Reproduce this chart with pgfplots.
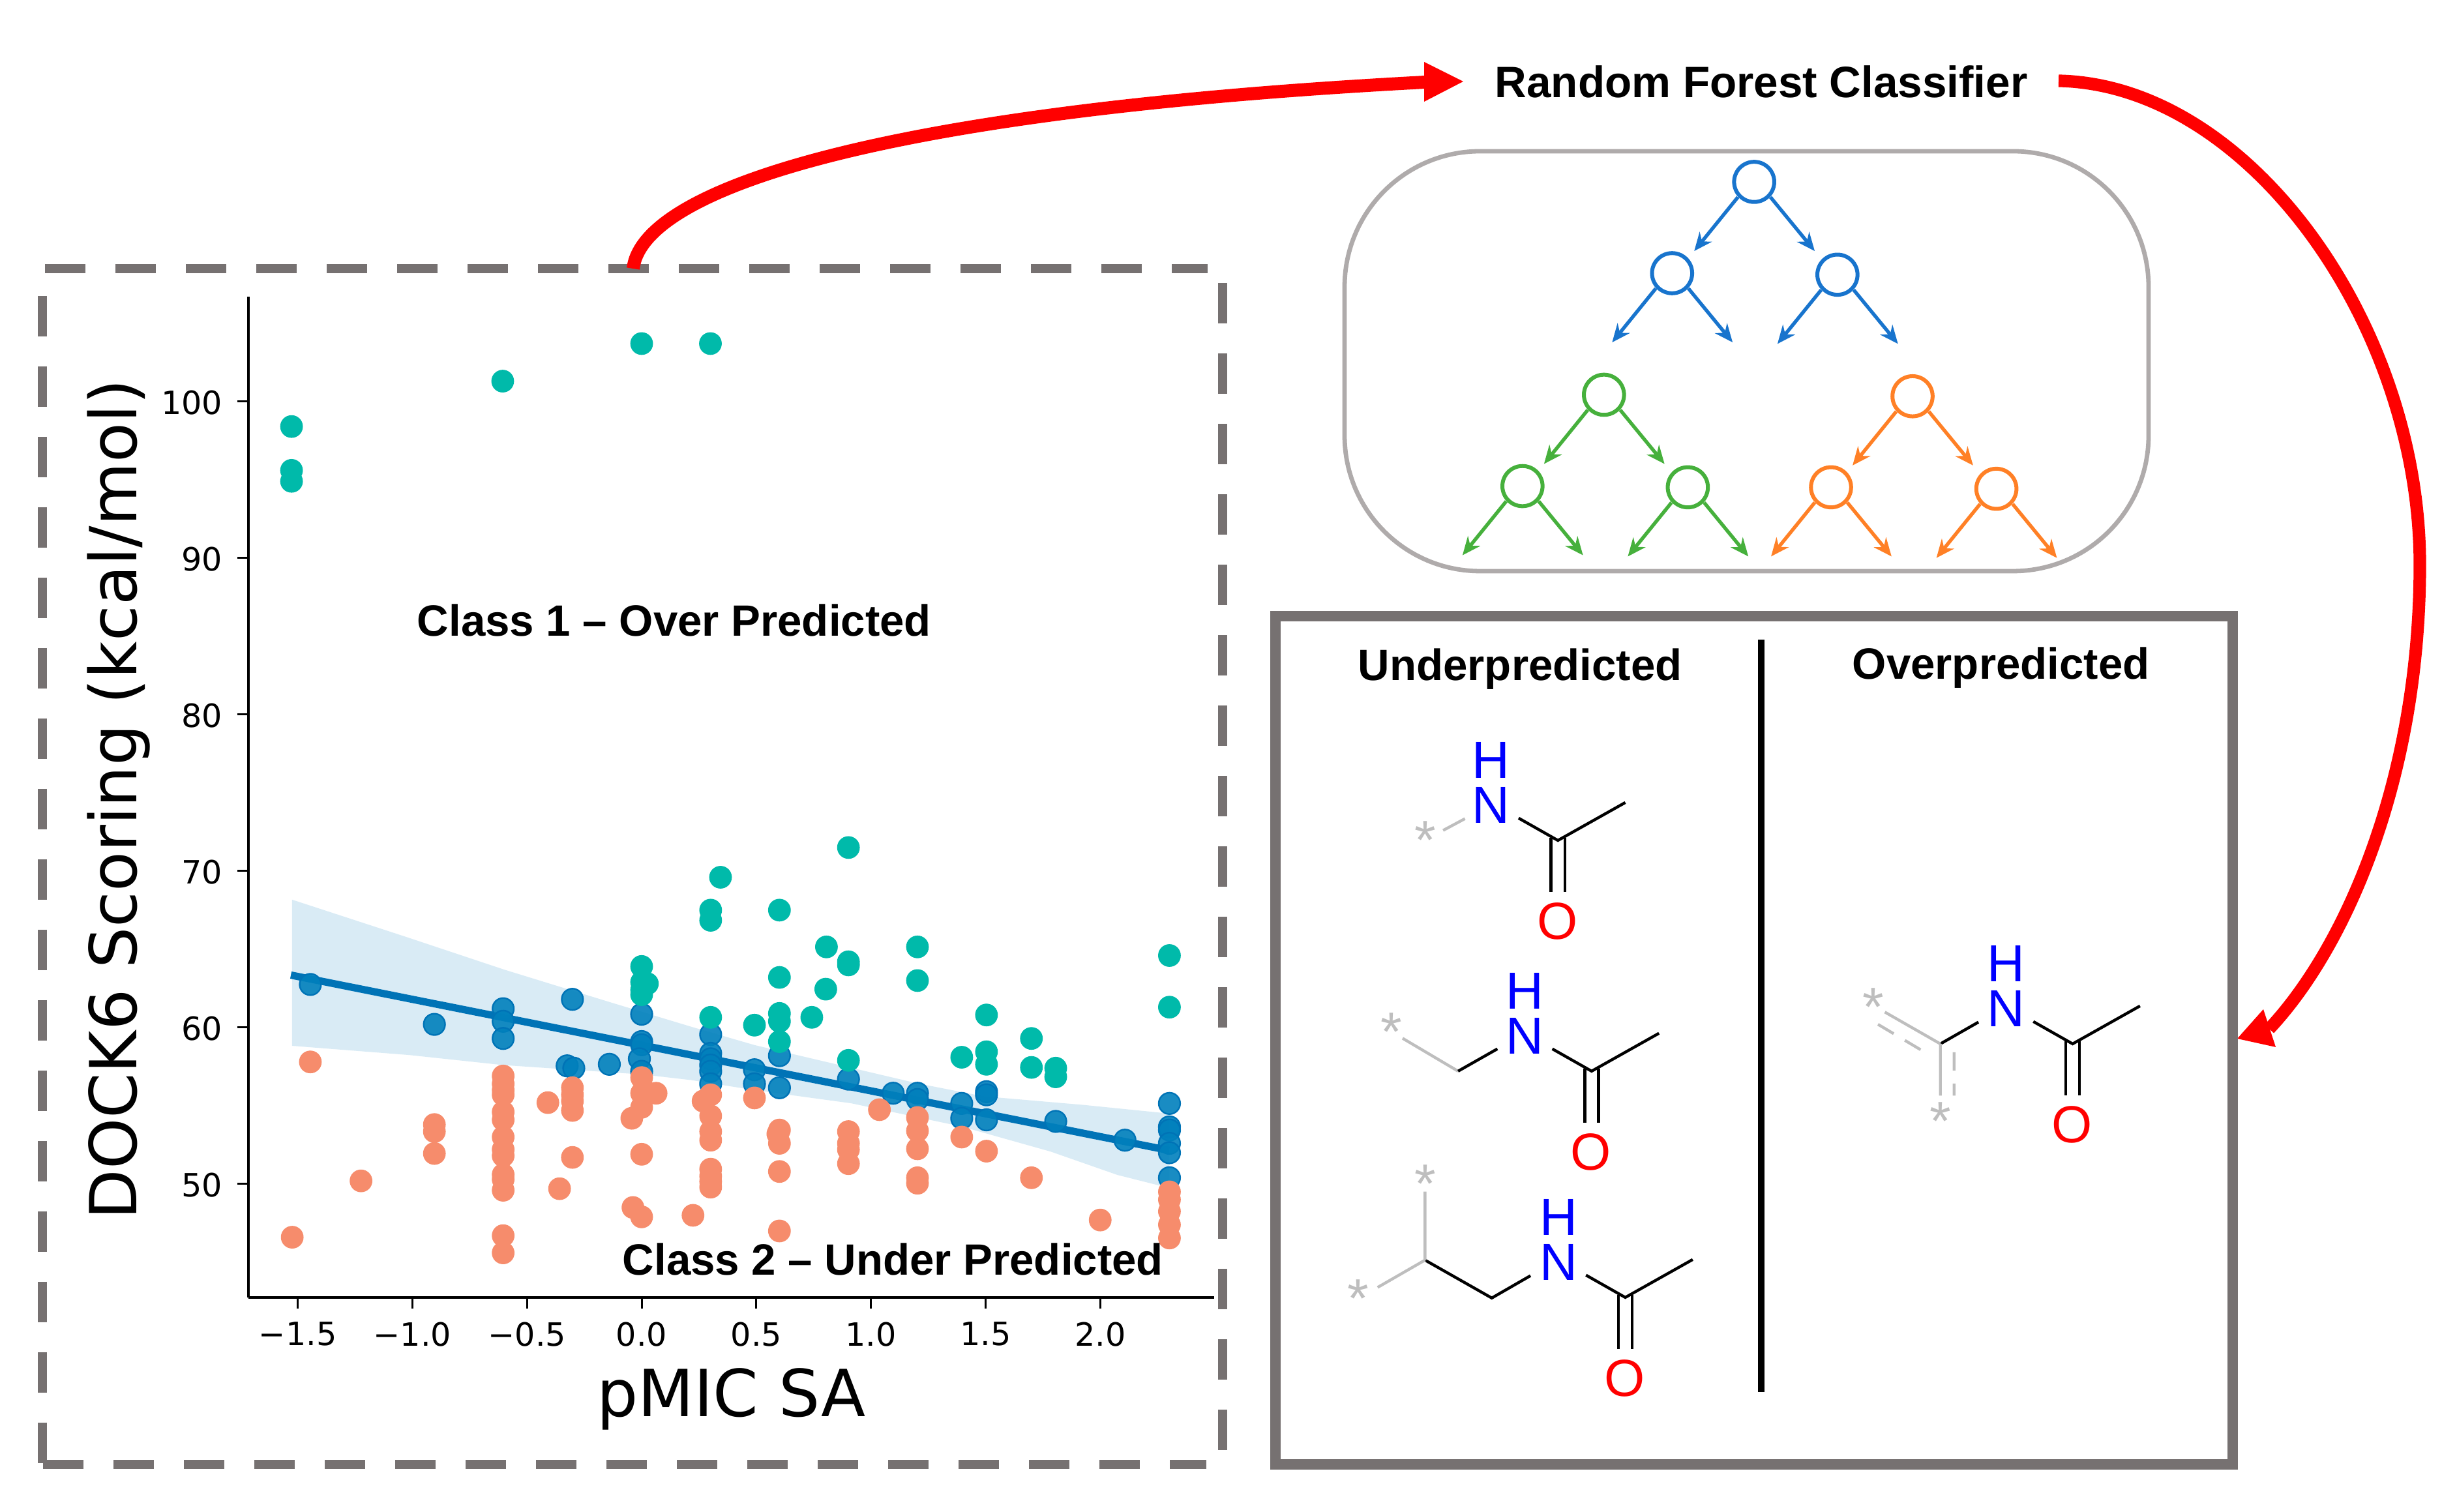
\documentclass[border=0pt]{standalone}
\usepackage{fontspec}
\usepackage{pgfplots}
\pgfplotsset{compat=1.18}
\usetikzlibrary{arrows.meta}
\setmainfont{Liberation Sans}
\newfontfamily\dejavu{DejaVu Sans}

\definecolor{ptgreen}{RGB}{0,186,170}
\definecolor{ptorange}{RGB}{246,140,108}
\definecolor{ptblue}{RGB}{0,128,188}
\definecolor{edgeblue}{RGB}{0,115,182}
\definecolor{bandblue}{RGB}{217,235,245}
\definecolor{frame}{RGB}{118,113,113}
\definecolor{lightframe}{RGB}{175,171,171}
\definecolor{treeblue}{RGB}{24,116,205}
\definecolor{treegreen}{RGB}{70,176,60}
\definecolor{treeorange}{RGB}{255,128,38}
\definecolor{stargray}{RGB}{190,190,190}

% one split of a tree: node centre, then the two arrows
\newcommand{\treenode}[3]{%
  \draw[#1,line width=1.5pt] (#2,#3) circle[radius=7.7pt];
  \draw[#1,line width=1.35pt,-{Stealth[length=7pt,width=6pt]}] (#2-28,#3+51) -- (#2-103,#3+231);
  \draw[#1,line width=1.35pt,-{Stealth[length=7pt,width=6pt]}] (#2+28,#3+51) -- (#2+104,#3+231);
}
% amide tail of a molecule, from the position of the NH
\newcommand{\amide}[2]{%
  \node[blue,font=\fontsize{20}{20}\selectfont,inner sep=0pt] at (#1,#2-81) {H};
  \node[blue,font=\fontsize{20}{20}\selectfont,inner sep=0pt] at (#1,#2) {N};
  \node[red,font=\fontsize{20}{20}\selectfont,inner sep=0pt] at (#1+106,#2+208) {O};
  \draw[black,line width=1.1pt,line join=miter] (#1+44,#2+23) -- (#1+107,#2+63) -- (#1+215,#2-5);
  \draw[black,line width=1.1pt] (#1+96,#2+58) -- (#1+96,#2+156) (#1+118,#2+58) -- (#1+118,#2+156);
}
\newcommand{\attach}[2]{\node[stargray,font=\fontsize{21}{21}\selectfont,inner sep=0pt] at (#1,#2+12) {*};}

\begin{document}
\begin{tikzpicture}
\path[use as bounding box] (0,0) rectangle (942pt,579.75pt);

\begin{axis}[
    at={(95.25pt,82.25pt)}, anchor=south west,
    scale only axis, width=370.25pt, height=383.75pt,
    xmin=-1.715, xmax=2.497, ymin=42.75, ymax=106.7,
    axis x line*=bottom, axis y line*=left,
    axis line style={line width=0.8pt,-},
    x axis line style={line width=1.1pt},
    tick align=outside, major tick length=4.3pt,
    tick style={black,line width=0.75pt},
    xtick={-1.5,-1,-0.5,0,0.5,1,1.5,2},
    xticklabels={−1.5,−1.0,−0.5,0.0,0.5,1.0,1.5,2.0},
    ytick={50,60,70,80,90,100},
    yticklabels={50,60,70,80,90,100},
    tick label style={font=\dejavu\fontsize{12.3}{14}\selectfont,inner sep=0pt},
    x tick label style={yshift=-5pt},
    y tick label style={xshift=-5.5pt,yshift=-0.5pt},
    xlabel={\dejavu pMIC SA}, ylabel={\dejavu DOCK6 Scoring (kcal/mol)},
    label style={font=\fontsize{24.9}{28}\selectfont,inner sep=0pt},
    xlabel style={at={(axis description cs:0.5,-0.1186)},anchor=base},
    ylabel style={at={(axis description cs:-0.1155,0.4975)},anchor=base},
]
% confidence band
\addplot[fill=bandblue,draw=none] coordinates {
    (-1.525,68.17) (-1.013,65.72) (-0.604,63.72) (-0.143,61.64) (0.216,60.05)
    (0.492,58.88) (1.203,56.43) (1.493,55.6) (1.93,55.05) (2.302,54.5)
    (2.302,49.74) (2.075,50.58) (1.784,52.07) (1.396,53.67) (0.913,55.16)
    (0.492,56) (0.216,56.64) (0.003,57) (-0.604,57.6) (-1.013,58.24) (-1.525,58.83)
} -- cycle;
% points near the fit
\addplot[only marks,mark=*,mark size=4.1pt,mark options={fill=ptblue,fill opacity=0.9,draw=edgeblue,line width=0.6pt}] coordinates {
    (-1.445,62.75) (-0.904,60.2) (-0.604,61.2) (-0.604,60.4) (-0.604,59.3)
    (-0.302,61.8) (-0.325,57.55) (-0.296,57.4) (-0.141,57.65)
    (0,60.85) (0,59.1) (0,58.9) (-0.01,58) (0,57.2)
    (0.301,59.55) (0.301,58.35) (0.301,58) (0.301,57.6) (0.301,57.2) (0.301,56.4)
    (0.492,57.3) (0.492,56.4) (0.601,58.2) (0.601,56.15) (0.902,56.7)
    (1.097,55.8) (1.203,55.8) (1.203,55.4) (1.396,55.15) (1.396,54.2)
    (1.504,55.9) (1.504,55.7) (1.504,54.1) (1.806,54) (2.108,52.8)
    (2.302,55.15) (2.302,53.65) (2.302,53.45) (2.302,52.6) (2.302,52) (2.302,50.4)
};
% fit line
\addplot[edgeblue,line width=2.8pt] coordinates {(-1.53,63.35) (2.3,52.15)};
% class 1
\addplot[only marks,mark=*,mark size=4.2pt,mark options={fill=ptgreen,draw=ptgreen,line width=0.3pt}] coordinates {
    (-1.527,98.4) (-1.527,95.6) (-1.527,94.9) (-0.606,101.3) (0,103.7) (0.3,103.7)
    (0,63.9) (0,62.9) (0.025,62.8) (0,62.4) (0,62.1)
    (0.344,69.6) (0.301,67.5) (0.301,66.85) (0.902,71.5) (0.601,67.5)
    (0.806,65.15) (0.902,64.2) (0.902,64) (1.203,65.15) (1.203,63)
    (2.302,64.6) (2.302,61.3) (0.601,63.2) (0.803,62.45)
    (0.601,60.9) (0.601,60.4) (0.601,59.1) (0.742,60.65) (0.301,60.65) (0.492,60.15)
    (0.902,57.9) (1.396,58.1) (1.504,60.8) (1.504,58.45) (1.504,57.65)
    (1.7,59.3) (1.7,57.45) (1.806,57.4) (1.806,56.85)
};
% class 2
\addplot[only marks,mark=*,mark size=4.2pt,mark options={fill=ptorange,draw=ptorange,line width=0.3pt}] coordinates {
    (-1.524,46.6) (-1.445,57.8) (-1.224,50.2)
    (-0.904,53.8) (-0.904,53.35) (-0.904,51.95)
    (-0.604,56.9) (-0.604,56.4) (-0.604,56) (-0.604,55.7) (-0.604,54.6) (-0.604,54.1)
    (-0.604,53) (-0.604,52.2) (-0.604,51.8) (-0.604,50.6) (-0.604,50.3) (-0.604,49.6)
    (-0.604,46.7) (-0.604,45.6)
    (-0.409,55.2) (-0.302,56.15) (-0.302,55.7) (-0.302,55.3) (-0.302,54.7) (-0.302,51.7)
    (-0.358,49.7)
    (0,56.8) (0,55.8) (0,54.9) (0,51.9) (0,47.9) (-0.043,54.2) (-0.038,48.5)
    (0.063,55.8) (0.03,55.8)
    (0.224,48) (0.301,55.7) (0.268,55.3) (0.301,54.35) (0.301,53.35) (0.301,52.8)
    (0.301,50.95) (0.301,50.5) (0.301,50.15) (0.301,49.8)
    (0.492,55.5) (0.601,53.45) (0.594,53.2) (0.601,52.6) (0.601,50.8) (0.601,47)
    (0.902,53.35) (0.902,52.6) (0.902,52.2) (0.902,51.3) (1.037,54.75)
    (1.203,54.25) (1.203,53.4) (1.203,52.25) (1.203,50.4) (1.203,50.05)
    (1.396,53) (1.504,52.1) (1.7,50.4) (2,47.7)
    (2.302,49.5) (2.302,49) (2.302,48.25) (2.302,47.4) (2.302,46.55)
};
\end{axis}

% everything else is laid out in pixels of the reference
\begin{scope}[shift={(0pt,579.75pt)},x=0.25pt,y=-0.25pt]
  % dashed frame
  \begin{scope}[frame,line width=3.6pt,dash pattern=on 15.5pt off 11.5pt]
    \draw (69,412) -- (1852,412);
    \draw (1875,434) -- (1875,2230);
    \draw (65,454) -- (65,2245);
    \draw (66,2246) -- (1850,2246);
  \end{scope}
  \node[anchor=base west,font=\bfseries\fontsize{16.8}{20}\selectfont,inner sep=0pt] at (639,976) {Class 1 – Over Predicted};
  \node[anchor=base west,font=\bfseries\fontsize{16.8}{20}\selectfont,inner sep=0pt] at (954,1956) {Class 2 – Under Predicted};
  \node[anchor=base west,font=\bfseries\fontsize{16.85}{20}\selectfont,inner sep=0pt] at (2292,150) {Random Forest Classifier};

  % red arrows
  \draw[red,line width=5pt] (971,412) .. controls (985,290) and (1350,170) .. (2186,126);
  \fill[red] (2184,95) -- (2244,125) -- (2184,156) -- cycle;
  \draw[red,line width=4.8pt] (3157,124) .. controls (3450,130) and (3711,500) .. (3711,866)
     .. controls (3711,1190) and (3600,1450) .. (3480,1578);
  \fill[red] (3431,1593) -- (3471,1548) -- (3490,1606) -- cycle;

  % forest
  \draw[lightframe,line width=1.7pt,rounded corners=52pt] (2062,232) rectangle (3295,876);
  \begin{scope}[shift={(1950,200)},x=0.2232pt,y=-0.1148pt]
    \treenode{treeblue}{829}{172}
    \treenode{treeblue}{688}{477}
    \treenode{treeblue}{972}{482}
    \treenode{treegreen}{571}{883}
    \treenode{treegreen}{431}{1188}
    \treenode{treegreen}{715}{1192}
    \treenode{treeorange}{1101}{888}
    \treenode{treeorange}{961}{1192}
    \treenode{treeorange}{1245}{1197}
  \end{scope}

  % fragments box
  \draw[frame,line width=3.8pt] (1956,945) rectangle (3424,2246);
  \draw[black,line width=2.4pt] (2701,981) -- (2701,2135);
  \node[anchor=base west,font=\bfseries\fontsize{16.8}{20}\selectfont,inner sep=0pt] at (2082,1044) {Underpredicted};
  \node[anchor=base west,font=\bfseries\fontsize{16.8}{20}\selectfont,inner sep=0pt] at (2840,1042) {Overpredicted};
  \begin{scope}[shift={(1950,930)},x=0.2392pt,y=-0.2137pt]
    \amide{352}{357}
    \attach{246}{408}
    \draw[stargray,line width=1.1pt] (275,402) -- (310,381);

    \amide{406}{771}
    \attach{192}{752}
    \draw[stargray,line width=1.1pt] (210,775) -- (299,834);
    \draw[black,line width=1.1pt] (299,834) -- (362,794);

    \amide{460}{1177}
    \draw[black,line width=1.1pt] (246,1173) -- (353,1241) -- (415,1201);
    \draw[stargray,line width=1.1pt] (246,1173) -- (246,1050) (246,1173) -- (170,1222);
    \attach{246}{1024}
    \attach{139}{1230}

    \amide{1177}{722}
    \draw[black,line width=1.1pt] (1072,785) -- (1133,746);
    \draw[stargray,line width=1.1pt] (1072,785) -- (983,728) (1072,785) -- (1072,878);
    \draw[stargray,line width=1.1pt,dash pattern=on 7pt off 5pt] (972,750) -- (1050,802) (1094,800) -- (1094,878);
    \attach{965}{707}
    \attach{1072}{912}
  \end{scope}
\end{scope}
\end{tikzpicture}
\end{document}
